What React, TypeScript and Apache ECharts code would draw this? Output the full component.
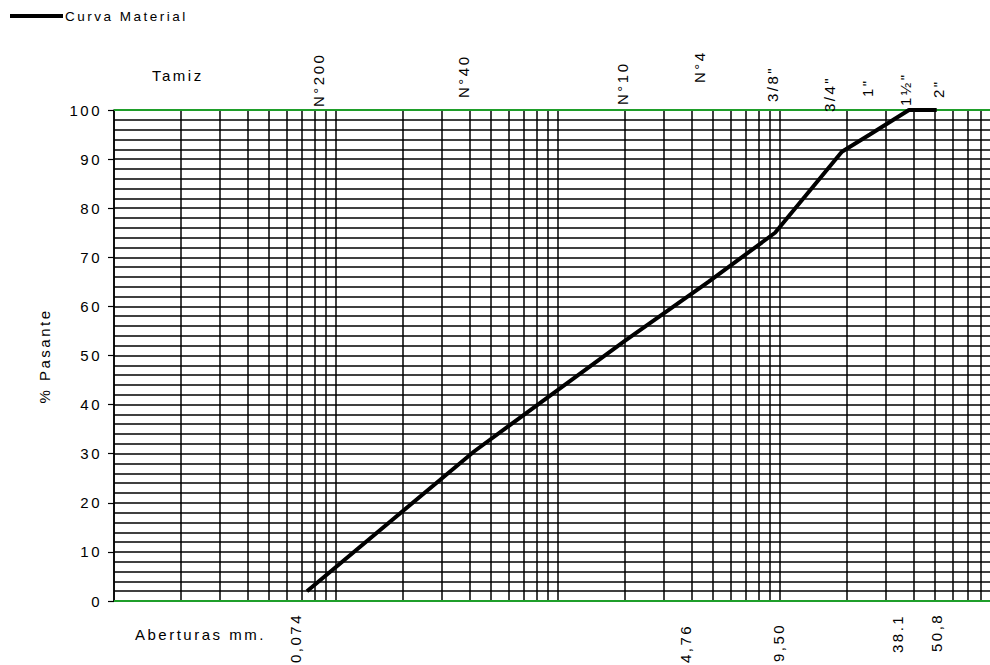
import React, { useEffect, useRef } from "react";
import * as echarts from "echarts";

// Curve data: sieve opening (mm) vs % passing
const sieveMm = [0.074, 0.42, 2.0, 4.76, 9.5, 19, 25.4, 38.1, 50.8];
const passing = [2, 30.5, 53, 65, 75, 91.5, 95, 100, 100];

// Top labels (sieve names)
const tamizNames = ["N°200", "N°40", "N°10", "N°4", '3/8"', '3/4"', '1"', '1½"', '2"'];
const tamizSizes = [0.074, 0.42, 2.0, 4.76, 9.5, 19, 25.4, 38.1, 50.8];

// Bottom labels (openings)
const aperturaLabels = ["0,074", "4,76", "9,50", "38.1", "50,8"];
const aperturaSizes = [0.074, 4.76, 9.5, 38.1, 50.8];

// Log grid
const decades = [0.01, 0.1, 1, 10];
const multiples = [1, 2, 3, 4, 5, 6, 7, 8, 9];

// Layout offsets for rotated labels: [dx from sieve position, baseline y]
const tamizLayout = [[12, 107], [-11, 98], [-2, 105], [-9, 83], [-3, 102], [-12, 112], [-2, 97], [-3, 106], [2, 98]];
const aperturaLayout = [[-11, 663], [-23, 663], [3, 662], [-11, 653], [0, 652]];

const FONT = "'Liberation Sans', Arial, sans-serif";
const GREEN = "#1f9e2a";

export default function App() {
  const ref = useRef<HTMLDivElement>(null);
  useEffect(() => {
    if (!ref.current) return;
    const chart = echarts.init(ref.current, null, { renderer: "svg" });
    const vLines: number[] = [];
    decades.forEach((d) => multiples.forEach((m) => vLines.push(+(d * m).toPrecision(6))));
    vLines.push(100);

    chart.setOption({
      animation: false,
      textStyle: { fontFamily: FONT },
      grid: { left: 114, top: 110, width: 888, height: 491 },
      legend: {
        left: 10,
        top: 9,
        padding: 0,
        icon: "rect",
        itemWidth: 53,
        itemHeight: 4,
        itemGap: 4,
        data: ["Curva Material"],
        textStyle: { fontSize: 13.5, color: "#000", fontFamily: FONT, padding: [0, 0, 0, -3] },
      },
      xAxis: {
        type: "log",
        logBase: 10,
        min: 0.01,
        max: 100,
        axisLine: { show: false },
        axisTick: { show: false },
        axisLabel: { show: false },
        splitLine: { show: false },
      },
      yAxis: {
        type: "value",
        min: 0,
        max: 100,
        interval: 10,
        axisLine: { show: true, lineStyle: { color: "#000", width: 1.5 } },
        axisTick: { show: true, length: 6, lineStyle: { color: "#000", width: 1.2 } },
        axisLabel: { color: "#000", fontSize: 15, fontFamily: FONT, margin: 12 },
        splitLine: { show: true, lineStyle: { color: "#000", width: 1.5 } },
        minorTick: { show: false, splitNumber: 5 },
        minorSplitLine: { show: true, lineStyle: { color: "#000", width: 1.5 } },
      },
      series: [
        {
          type: "line",
          name: "grid",
          data: [],
          silent: true,
          markLine: {
            silent: true,
            symbol: "none",
            label: { show: false },
            lineStyle: { color: "#000", width: 1.5, type: "solid" },
            data: vLines.map((v) => ({ xAxis: v })),
          },
        },
        {
          type: "line",
          name: "borde",
          data: [],
          silent: true,
          markLine: {
            silent: true,
            symbol: "none",
            label: { show: false },
            lineStyle: { color: GREEN, width: 2, type: "solid" },
            data: [{ yAxis: 0 }, { yAxis: 100 }],
          },
        },
        {
          type: "line",
          name: "Curva Material",
          z: 10,
          data: sieveMm.map((x, i) => [x, passing[i]]),
          showSymbol: false,
          symbol: "none",
          lineStyle: { color: "#000", width: 4 },
          itemStyle: { color: "#000" },
        },
      ],
    });

    const texts: any[] = [];
    const txt = (text: string, x: number, y: number, rot: number, align: string, va: string, size = 15) => ({
      type: "text",
      x,
      y,
      rotation: rot,
      silent: true,
      z: 20,
      style: { text, fill: "#000", fontSize: size, fontFamily: FONT, align, verticalAlign: va },
    });
    tamizNames.forEach((n, i) => {
      const px = chart.convertToPixel({ xAxisIndex: 0 }, tamizSizes[i]) as number;
      texts.push(txt(n, px + tamizLayout[i][0], tamizLayout[i][1], Math.PI / 2, "left", "middle"));
    });
    aperturaLabels.forEach((n, i) => {
      const px = chart.convertToPixel({ xAxisIndex: 0 }, aperturaSizes[i]) as number;
      texts.push(txt(n, px + aperturaLayout[i][0], aperturaLayout[i][1], Math.PI / 2, "left", "middle"));
    });
    texts.push(txt("Tamiz", 152, 75, 0, "left", "middle"));
    texts.push(txt("Aberturas mm.", 135, 634, 0, "left", "middle"));
    texts.push(txt("% Pasante", 44, 356, Math.PI / 2, "center", "middle"));
    chart.setOption({ graphic: texts });

    return () => chart.dispose();
  }, []);

  return (
    <div
      style={{
        position: "fixed",
        left: 0,
        top: 0,
        width: 990,
        height: 665,
        overflow: "hidden",
        background: "#fff",
        letterSpacing: "2.5px",
      }}
    >
      <div ref={ref} style={{ width: 1030, height: 665 }} />
    </div>
  );
}
